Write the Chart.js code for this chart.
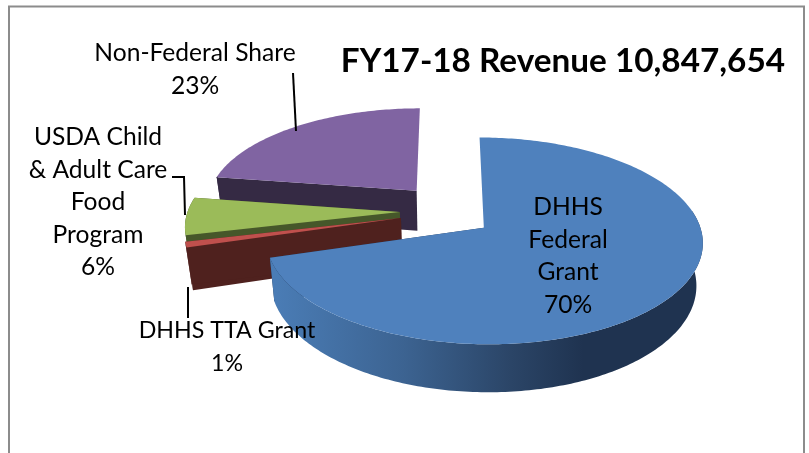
<!DOCTYPE html>
<html><head><meta charset="utf-8">
<script src="https://cdn.jsdelivr.net/npm/chart.js@4"></script>
<style>html,body{margin:0;padding:0;background:#fff}canvas{display:block}</style>
</head><body><canvas id="c" width="809" height="453"></canvas>
<script>
const categories = ['DHHS Federal Grant','DHHS TTA Grant','USDA Child & Adult Care Food Program','Non-Federal Share'];
const shares = [70.4, 0.9, 6.1, 22.6];
const chartTitle = 'FY17-18 Revenue 10,847,654';
const topColors = ['#4f81bd','#c0504d','#9bbb59','#8064a2'];
const wallColors = ['#1f3350','#4f211e','#46572a','#352a44'];

// projection of the tilted pie
const view = {cx:446, cy:211, ax:212, ay:97.5, persp:0.125, depth:41, taper:0.975, ex:0.218, ey:0.28};
function project(mid, a){
  const u = view.ex*Math.cos(mid)+Math.cos(a), v = view.ey*Math.sin(mid)+Math.sin(a);
  const w = 1-view.persp*v;
  return {x:view.cx+view.ax*u/w, y:view.cy+view.ay*v/w, w, a};
}
function apex(mid){
  const u=view.ex*Math.cos(mid), v=view.ey*Math.sin(mid), w=1-view.persp*v;
  return {x:view.cx+view.ax*u/w, y:view.cy+view.ay*v/w, w};
}
const lower = p => ({x:view.cx+(p.x-view.cx)*view.taper, y:p.y+view.depth/p.w});
function poly(ctx, pts, fill){
  ctx.beginPath(); pts.forEach((p,i)=> i?ctx.lineTo(p.x,p.y):ctx.moveTo(p.x,p.y)); ctx.closePath();
  ctx.fillStyle=fill; ctx.fill();
}
const pie3d = {
  id:'pie3d',
  beforeDraw(chart){
    const c=chart.ctx; c.save(); c.fillStyle='#fff'; c.fillRect(0,0,809,453);
    c.strokeStyle='#8c8c8c'; c.lineWidth=2;
    c.beginPath(); c.moveTo(9,453); c.lineTo(9,6.5); c.lineTo(804,6.5); c.lineTo(804,453); c.stroke(); c.restore();
  },
  beforeDatasetsDraw(chart){
    const c=chart.ctx, arcs=chart.getDatasetMeta(0).data;
    [3,2,1,0].forEach(i=>{
      const s=arcs[i].startAngle, e=arcs[i].endAngle, m=(s+e)/2, n=Math.max(4,Math.round((e-s)*60));
      const rim=[]; for(let k=0;k<=n;k++) rim.push(project(m,s+(e-s)*k/n));
      const A=apex(m), first=rim[0], last=rim[n];
      let wall=wallColors[i];
      // walls on a straight edge pointing away from the viewer stay hidden
      if(Math.abs(Math.cos(s))>0.01) poly(c,[A,first,lower(first),lower(A)],wall);
      if(Math.abs(Math.cos(e))>0.01) poly(c,[A,last,lower(last),lower(A)],wall);
      if(i===0){
        wall=c.createLinearGradient(276,0,703,0);
        wall.addColorStop(0,'#4a7cb5'); wall.addColorStop(0.3,'#3c6391');
        wall.addColorStop(0.55,'#2b4567'); wall.addColorStop(0.72,'#1f3350'); wall.addColorStop(1,'#1f3350');
      }
      // only the near part of the rim shows its wall
      const near=rim.filter(p=>Math.sin(p.a)>-0.18);
      if(near.length>1) poly(c,near.concat(near.slice().reverse().map(lower)),wall);
      poly(c,[A].concat(rim),topColors[i]);
    });
    return false;
  },
  afterDraw(chart){
    const c=chart.ctx;
    c.save(); c.strokeStyle='#000'; c.lineWidth=2;
    [[[293,73],[296,131]],[[172,177],[184,177],[185,215]],[[188,287],[188,318]]].forEach(l=>{
      c.beginPath(); l.forEach((p,i)=> i?c.lineTo(p[0],p[1]):c.moveTo(p[0],p[1])); c.stroke();
    });
    c.fillStyle='#000'; c.textAlign='center'; c.textBaseline='middle';
    const blocks=[
      {i:0,x:568,y:207,size:24.6,lines:['DHHS','Federal','Grant']},
      {i:1,x:227,y:331,size:23.2,lines:['DHHS TTA Grant']},
      {i:2,x:98,y:137,size:24.6,lines:['USDA Child','& Adult Care','Food','Program']},
      {i:3,x:195,y:53,size:24.6,lines:['Non-Federal Share']}
    ];
    blocks.forEach(b=>{
      c.font=b.size+'px Lato';
      const t=b.lines.concat([Math.round(shares[b.i])+'%']);
      t.forEach((s,k)=>c.fillText(s,b.x,b.y+k*32.6));
    });
    c.restore();
  }
};
new Chart(document.getElementById('c'),{
  type:'pie',
  data:{labels:categories,datasets:[{data:shares,backgroundColor:topColors,borderWidth:0}]},
  options:{
    responsive:false,animation:false,events:[],
    layout:{padding:{right:24}},
    plugins:{
      legend:{display:false},tooltip:{enabled:false},
      title:{display:true,text:chartTitle,align:'end',color:'#000',padding:{top:41,bottom:0},font:{family:'Lato',size:33.3,weight:'bold'}}
    }
  },
  plugins:[pie3d]
});
</script></body></html>
